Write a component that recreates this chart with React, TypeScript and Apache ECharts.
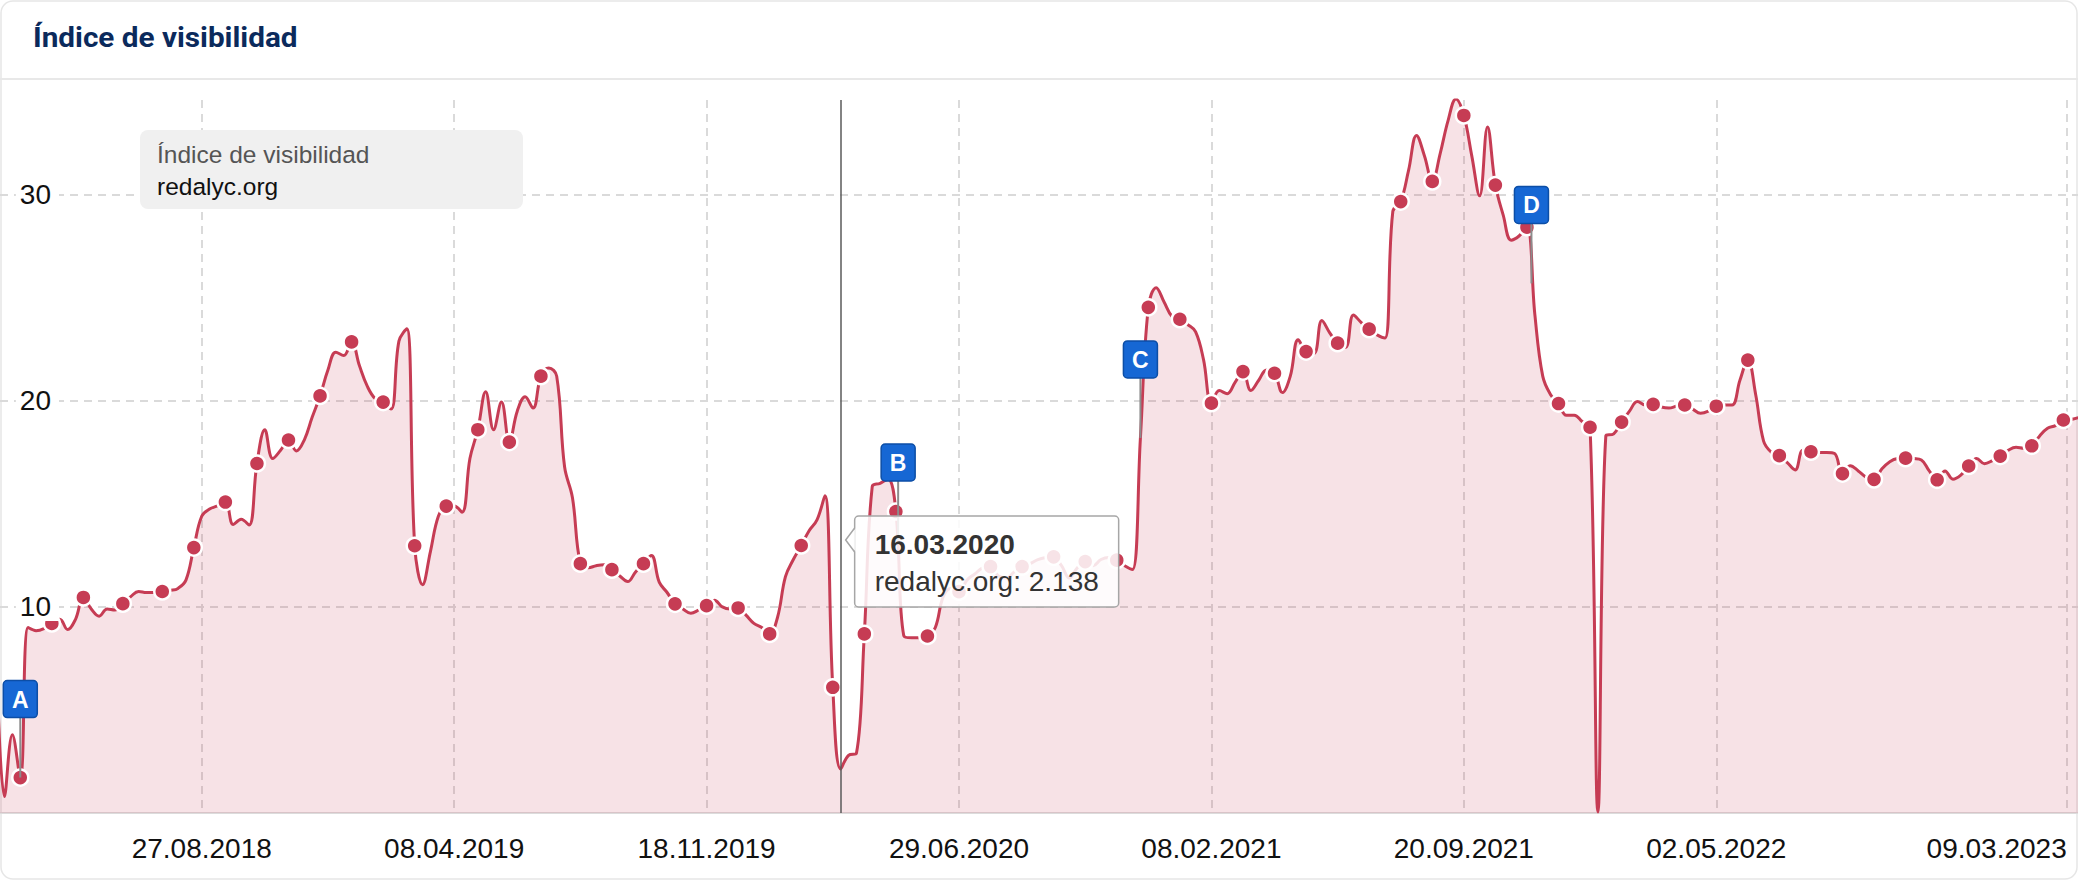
import React, { useEffect, useRef } from 'react';
import * as echarts from 'echarts';

// ---------- data ----------
const CHART_TITLE = 'Índice de visibilidad';
const LEGEND_TITLE = 'Índice de visibilidad';
const DOMAIN = 'redalyc.org';

// weekly values, one per Monday starting at FIRST_MONDAY
const FIRST_MONDAY = '2018-02-26';
const WEEKLY_VALUES: number[] = [
  7.5, 0.8, 3.8, 1.72, 9.0, 8.85, 8.95, 9.2, 9.4, 8.9,
  9.4, 10.46, 9.9, 9.55, 9.9, 9.85, 10.16, 10.5, 10.75, 10.7,
  10.7, 10.75, 10.8, 10.9, 11.3, 12.88, 14.4, 14.75, 14.9, 15.09,
  14.0, 14.25, 13.97, 16.96, 18.6, 17.2, 17.6, 18.1, 17.57, 18.1,
  19.2, 20.24, 21.5, 22.36, 22.2, 22.86, 21.7, 20.7, 20.1, 19.94,
  19.6, 22.9, 23.5, 12.97, 11.08, 12.7, 14.4, 14.89, 14.9, 14.6,
  17.2, 18.6, 20.44, 18.6, 19.94, 18.0, 19.5, 20.2, 19.65, 21.2,
  21.6, 21.2, 16.8, 15.3, 12.1, 11.9, 12.0, 12.05, 11.81, 11.5,
  11.23, 11.7, 12.1, 12.5, 11.2, 10.7, 10.15, 9.9, 9.69, 9.85,
  10.06, 10.33, 10.0, 9.9, 9.95, 9.6, 9.2, 9.0, 8.69, 9.5,
  11.47, 12.3, 12.98, 13.7, 14.22, 15.4, 6.1, 2.138, 2.8, 2.9,
  8.69, 15.84, 16.0, 16.2, 14.63, 8.6, 8.5, 8.5, 8.59, 9.0,
  10.5, 10.9, 10.74, 11.3, 11.6, 11.9, 11.96, 11.5, 11.4, 11.7,
  11.96, 12.1, 12.3, 12.4, 12.43, 12.0, 11.4, 11.9, 12.2, 12.0,
  12.3, 12.4, 12.27, 12.0, 11.82, 18.2, 24.54, 25.49, 24.8, 24.1,
  23.96, 23.7, 23.35, 22.0, 19.89, 20.5, 20.35, 20.9, 21.42, 20.5,
  21.0, 21.5, 21.34, 20.4, 21.2, 22.96, 22.39, 22.3, 23.9, 23.3,
  22.8, 22.6, 24.17, 23.8, 23.48, 23.2, 23.05, 29.2, 29.67, 31.2,
  32.88, 31.9, 30.65, 32.0, 33.6, 34.65, 33.85, 31.9, 29.95, 33.29,
  30.47, 29.0, 27.8, 28.0, 28.43, 24.2, 21.2, 20.3, 19.87, 19.3,
  19.3, 19.0, 18.72, 0.05, 18.3, 18.4, 18.97, 19.5, 19.97, 19.8,
  19.83, 19.7, 19.65, 19.75, 19.8, 19.6, 19.4, 19.5, 19.74, 19.8,
  19.8, 21.0, 21.98, 20.3, 18.05, 17.5, 17.34, 17.0, 16.65, 17.6,
  17.53, 17.5, 17.5, 17.45, 16.47, 16.85, 16.6, 16.3, 16.19, 16.7,
  17.05, 17.2, 17.22, 17.2, 17.13, 16.6, 16.17, 16.6, 16.2, 16.4,
  16.84, 17.2, 16.95, 17.1, 17.32, 17.6, 17.75, 17.7, 17.82, 18.3,
  18.67, 18.8, 19.07, 19.1, 19.2,
];

// indices (into WEEKLY_VALUES) of the points that carry a visible marker
const MARKER_INDICES: number[] = [
  3, 7, 11, 16, 21, 25, 29, 33, 37, 41, 45, 49, 53, 57, 61, 65, 69, 74, 78, 82,
  86, 90, 94, 98, 102, 106, 110, 114, 118, 122, 126, 130, 134, 138, 142, 146,
  150, 154, 158, 162, 166, 170, 174, 178, 182, 186, 190, 194, 198, 202, 206,
  210, 214, 218, 222, 226, 230, 234, 238, 242, 246, 250, 254, 258, 262,
];

const TICK_DATES = [
  '2018-08-27', '2019-04-08', '2019-11-18', '2020-06-29',
  '2021-02-08', '2021-09-20', '2022-05-02', '2023-03-09',
];
const Y_TICKS = [10, 20, 30];

const FLAG_LABELS = ['A', 'B', 'C', 'D'];
const FLAG_DATES = ['2018-03-19', '2020-05-06', '2020-12-07', '2021-11-19'];
const FLAG_VALUES = [1.72, 13.2, 18.2, 25.7];

const HOVER_DATE = '2020-03-16';

const X_MIN = '2018-03-01';
const X_MAX = '2023-03-19';
const Y_MAX = 34.6;

// ---------- helpers ----------
const DAY = 86400000;
const ts = (s: string) => {
  const [y, m, d] = s.split('-').map(Number);
  return Date.UTC(y, m - 1, d);
};
const pad = (n: number) => (n < 10 ? '0' : '') + n;
const fmt = (t: number) => {
  const d = new Date(t);
  return pad(d.getUTCDate()) + '.' + pad(d.getUTCMonth() + 1) + '.' + d.getUTCFullYear();
};

const FONT = '"Liberation Sans", Arial, Helvetica, sans-serif';
const GRID_COLOR = '#dadada';
const LINE_COLOR = '#c63c54';
const FLAG_FILL = '#1667d4';
const FLAG_STROKE = '#0c4ea6';

export default function App() {
  const ref = useRef<HTMLDivElement>(null);

  useEffect(() => {
    if (!ref.current) return;
    const chart = echarts.init(ref.current, undefined, { renderer: 'svg' });

    const start = ts(FIRST_MONDAY);
    const markerSet = new Set(MARKER_INDICES);
    const lineData = WEEKLY_VALUES.map((v, i) => ({
      value: [start + i * 7 * DAY, v],
      symbol: markerSet.has(i) ? 'circle' : 'none',
    }));
    const tickValues = TICK_DATES.map(ts);
    const hoverT = ts(HOVER_DATE);
    const hoverIdx = Math.round((hoverT - start) / (7 * DAY));
    const hoverV = WEEKLY_VALUES[hoverIdx];

    const gridLine = { color: GRID_COLOR, width: 2, type: [8, 6] as any };

    const option: any = {
      animation: false,
      backgroundColor: '#ffffff',
      grid: { left: 0, right: 0, top: 100, bottom: 67, containLabel: false, outerBoundsMode: 'none' },
      xAxis: {
        type: 'value',
        min: ts(X_MIN),
        max: ts(X_MAX),
        axisLine: { show: true, lineStyle: { color: '#dcdcdc', width: 2 } },
        axisTick: { show: false, customValues: tickValues },
        axisLabel: {
          customValues: tickValues,
          formatter: (v: number) => fmt(v),
          color: '#111',
          fontSize: 28,
          fontFamily: FONT,
          margin: 21,
          alignMaxLabel: 'right',
        },
        splitLine: { show: true, lineStyle: gridLine },
      },
      yAxis: [
        {
          type: 'value',
          min: 0,
          max: Y_MAX,
          axisLine: { show: false },
          axisTick: { show: false, customValues: Y_TICKS },
          axisLabel: { show: false, customValues: Y_TICKS },
          splitLine: { show: true, lineStyle: gridLine },
        },
        {
          type: 'value',
          min: 0,
          max: Y_MAX,
          position: 'left',
          z: 3,
          axisLine: { show: false },
          axisTick: { show: false, customValues: Y_TICKS },
          splitLine: { show: false },
          axisLabel: {
            inside: true,
            customValues: Y_TICKS,
            align: 'right',
            margin: 59,
            color: '#111',
            fontSize: 28,
            fontFamily: FONT,
            backgroundColor: '#ffffff',
            padding: [0, 8, 0, 4],
          },
        },
      ],
      series: [
        {
          type: 'line',
          name: DOMAIN,
          xAxisIndex: 0,
          yAxisIndex: 0,
          data: lineData,
          smooth: 0.4,
          showSymbol: true,
          symbol: 'circle',
          symbolSize: 16,
          lineStyle: { color: LINE_COLOR, width: 3 },
          itemStyle: { color: LINE_COLOR, borderColor: '#ffffff', borderWidth: 2.5 },
          areaStyle: { color: 'rgba(200, 62, 85, 0.215)', origin: 'start' },
          z: 2,
          markLine: {
            silent: true,
            symbol: ['none', 'none'],
            label: { show: false },
            lineStyle: { color: '#5a5a5a', width: 1.5, type: 'solid' },
            data: [{ xAxis: hoverT }],
          },
        },
        {
          type: 'custom',
          xAxisIndex: 0,
          yAxisIndex: 0,
          silent: true,
          clip: false,
          z: 10,
          data: FLAG_DATES.map((d, i) => [ts(d), FLAG_VALUES[i]]),
          renderItem: (params: any, api: any) => {
            const pt = api.coord([api.value(0), api.value(1)]);
            const letter = FLAG_LABELS[params.dataIndex];
            const stemTop = pt[1] - 60;
            return {
              type: 'group',
              children: [
                {
                  type: 'line',
                  shape: { x1: pt[0], y1: pt[1], x2: pt[0], y2: stemTop },
                  style: { stroke: '#8c8c8c', lineWidth: 2 },
                },
                {
                  type: 'rect',
                  shape: { x: pt[0] - 17, y: stemTop - 37, width: 34, height: 37, r: 4 },
                  style: { fill: FLAG_FILL, stroke: FLAG_STROKE, lineWidth: 1.5 },
                },
                {
                  type: 'text',
                  x: pt[0],
                  y: stemTop - 18,
                  style: {
                    text: letter,
                    fill: '#ffffff',
                    font: 'bold 23px ' + FONT,
                    align: 'center',
                    verticalAlign: 'middle',
                    textAlign: 'center',
                    textVerticalAlign: 'middle',
                  },
                },
              ],
            };
          },
        },
      ],
    };

    chart.setOption(option);

    const p = chart.convertToPixel({ seriesIndex: 0 }, [hoverT, hoverV]) as number[];
    const cx = p[0];
    const tipFill = 'rgba(255,255,255,0.86)';
    const tipStroke = '#a6a6a6';

    const txt = (x: number, y: number, text: string, font: string, fill: string) => ({
      type: 'text',
      x,
      y,
      silent: true,
      style: {
        text,
        font,
        fill,
        align: 'left',
        verticalAlign: 'middle',
        textAlign: 'left',
        textVerticalAlign: 'middle',
      },
    });

    chart.setOption({
      graphic: {
        elements: [
          {
            type: 'rect',
            z: -10,
            silent: true,
            shape: { x: 1, y: 1, width: 2076, height: 878, r: 12 },
            style: { fill: 'none', stroke: '#e6e6e6', lineWidth: 1.5 },
          },
          {
            type: 'line',
            silent: true,
            shape: { x1: 0, y1: 79, x2: 2078, y2: 79 },
            style: { stroke: '#e8e8e8', lineWidth: 2 },
          },
          {
            ...txt(33, 38, CHART_TITLE, 'bold 27px Roboto, "Noto Sans", sans-serif', '#0b2a5c'),
            scaleX: 1.1,
          },
          {
            type: 'rect',
            z: 20,
            silent: true,
            shape: { x: 140, y: 130, width: 383, height: 79, r: 8 },
            style: { fill: '#f0f0f0' },
          },
          { ...txt(157, 154, LEGEND_TITLE, '24.5px ' + FONT, '#555555'), z: 21 },
          { ...txt(157, 186, DOMAIN, '24.5px ' + FONT, '#111111'), z: 21 },
          {
            type: 'rect',
            z: 30,
            silent: true,
            shape: { x: cx + 14, y: 516, width: 264, height: 91, r: 4 },
            style: { fill: tipFill, stroke: tipStroke, lineWidth: 1.5 },
          },
          {
            type: 'polygon',
            z: 31,
            silent: true,
            shape: { points: [[cx + 15, 528], [cx + 5, 540], [cx + 15, 552]] },
            style: { fill: tipFill },
          },
          {
            type: 'polyline',
            z: 32,
            silent: true,
            shape: { points: [[cx + 14, 528], [cx + 5, 540], [cx + 14, 552]] },
            style: { stroke: tipStroke, lineWidth: 1.5, fill: 'none' },
          },
          { ...txt(cx + 34, 544, fmt(hoverT), 'bold 28px ' + FONT, '#333333'), z: 33 },
          { ...txt(cx + 34, 581, DOMAIN + ': ' + hoverV.toFixed(3), '28px ' + FONT, '#333333'), z: 33 },
        ],
      },
    });

    return () => chart.dispose();
  }, []);

  return (
    <div
      ref={ref}
      style={{ position: 'absolute', left: 0, top: 0, width: 2078, height: 880, background: '#fff' }}
    />
  );
}
